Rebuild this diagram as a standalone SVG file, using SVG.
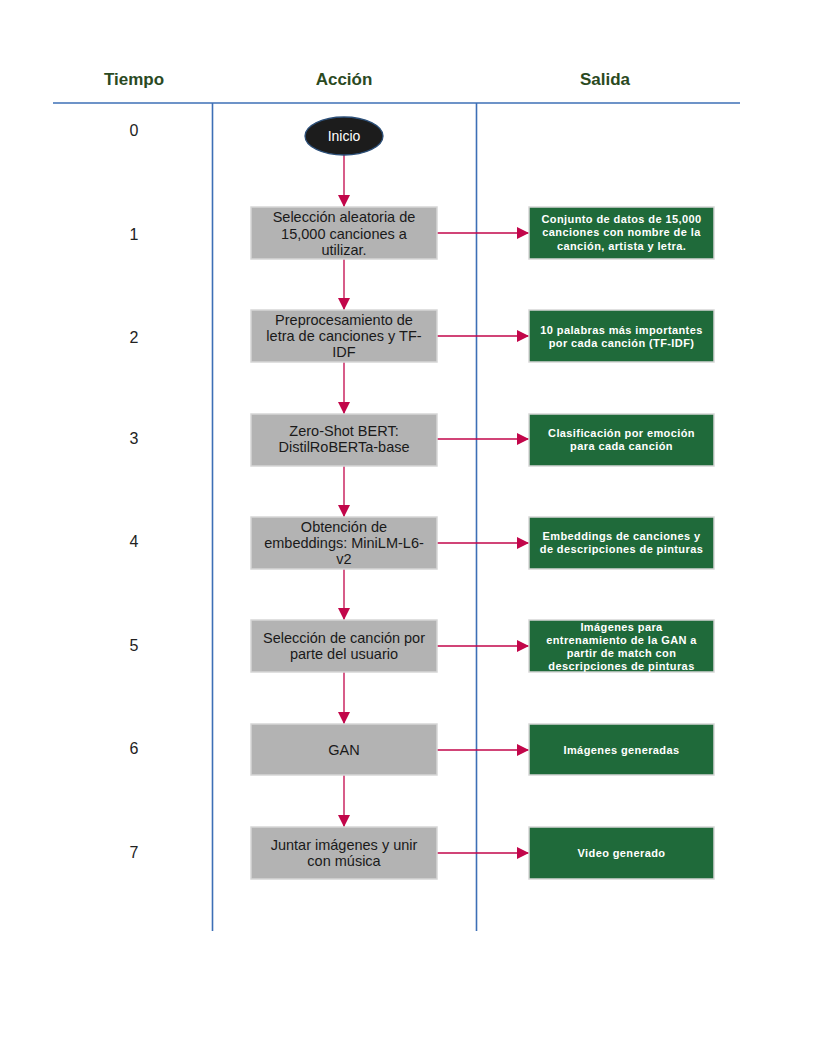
<svg xmlns="http://www.w3.org/2000/svg" width="816" height="1056" viewBox="0 0 816 1056">
<style>
.hdr{font-family:"Liberation Sans Narrow","Liberation Sans",Arial,sans-serif;font-weight:bold;font-size:17px;fill:#2b4a1f;text-anchor:middle}
.num{font-family:"Liberation Sans Narrow","Liberation Sans",Arial,sans-serif;font-size:16px;fill:#222;text-anchor:middle}
.lane{stroke:#3d6fb6;stroke-width:1.6;fill:none}
.act rect{fill:#b3b3b3;stroke:#d6d6d6;stroke-width:1.5}
.act text{font-family:"Liberation Sans",Arial,sans-serif;font-size:14.5px;fill:#1a1a1a;text-anchor:middle}
.out rect{fill:#1f6a3a;stroke:#d6d6d6;stroke-width:1.5}
.out text{font-family:"Liberation Sans",Arial,sans-serif;font-weight:bold;font-size:11px;letter-spacing:0.4px;fill:#ffffff;text-anchor:middle}
.conn line{stroke:#c2064a;stroke-width:1.3}
</style>
<defs>
<marker id="ah" viewBox="0 0 12 12" refX="12" refY="6" markerWidth="12" markerHeight="12" markerUnits="userSpaceOnUse" orient="auto">
<path d="M0,0 L12,6 L0,12 Z" fill="#c2064a"/>
</marker>
</defs>
<rect width="816" height="1056" fill="#ffffff"/>
<g id="lanes">
<line class="lane" x1="53" y1="103" x2="740" y2="103"/>
<line class="lane" x1="212.5" y1="103" x2="212.5" y2="931"/>
<line class="lane" x1="476.5" y1="103" x2="476.5" y2="931"/>
<text class="hdr" x="134" y="85">Tiempo</text>
<text class="hdr" x="344" y="85">Acción</text>
<text class="hdr" x="605" y="85">Salida</text>
</g>
<g id="times">
<text class="num" x="134" y="136">0</text>
<text class="num" x="134" y="240">1</text>
<text class="num" x="134" y="343">2</text>
<text class="num" x="134" y="444">3</text>
<text class="num" x="134" y="547">4</text>
<text class="num" x="134" y="651">5</text>
<text class="num" x="134" y="754">6</text>
<text class="num" x="134" y="858">7</text>
</g>
<g id="conn" class="conn">
<line x1="344" y1="155" x2="344" y2="207" marker-end="url(#ah)"/>
<line x1="344" y1="259" x2="344" y2="310" marker-end="url(#ah)"/>
<line x1="344" y1="362" x2="344" y2="414" marker-end="url(#ah)"/>
<line x1="344" y1="466" x2="344" y2="517" marker-end="url(#ah)"/>
<line x1="344" y1="569" x2="344" y2="620" marker-end="url(#ah)"/>
<line x1="344" y1="672" x2="344" y2="724" marker-end="url(#ah)"/>
<line x1="344" y1="775" x2="344" y2="827" marker-end="url(#ah)"/>
<line x1="437" y1="233" x2="529" y2="233" marker-end="url(#ah)"/>
<line x1="437" y1="336" x2="529" y2="336" marker-end="url(#ah)"/>
<line x1="437" y1="439" x2="529" y2="439" marker-end="url(#ah)"/>
<line x1="437" y1="543" x2="529" y2="543" marker-end="url(#ah)"/>
<line x1="437" y1="646" x2="529" y2="646" marker-end="url(#ah)"/>
<line x1="437" y1="750" x2="529" y2="750" marker-end="url(#ah)"/>
<line x1="437" y1="853" x2="529" y2="853" marker-end="url(#ah)"/>
</g>
<g id="inicio">
<ellipse cx="344" cy="136" rx="39" ry="19" fill="#1c1c1c" stroke="#2c4f78" stroke-width="1.3"/>
<text x="344" y="141" font-family="'Liberation Sans',Arial,sans-serif" font-size="14px" fill="#ffffff" text-anchor="middle">Inicio</text>
</g>
<g id="a1" class="act"><rect x="251" y="207" width="186" height="52"/>
<text x="344" y="222">Selección aleatoria de</text><text x="344" y="239">15,000 canciones a</text><text x="344" y="255">utilizar.</text></g>
<g id="a2" class="act"><rect x="251" y="310" width="186" height="52"/>
<text x="344" y="325">Preprocesamiento de</text><text x="344" y="341">letra de canciones y TF-</text><text x="344" y="357">IDF</text></g>
<g id="a3" class="act"><rect x="251" y="414" width="186" height="52"/>
<text x="344" y="436">Zero-Shot BERT:</text><text x="344" y="452">DistilRoBERTa-base</text></g>
<g id="a4" class="act"><rect x="251" y="517" width="186" height="52"/>
<text x="344" y="532">Obtención de</text><text x="344" y="548">embeddings: MiniLM-L6-</text><text x="344" y="564">v2</text></g>
<g id="a5" class="act"><rect x="251" y="620" width="186" height="52"/>
<text x="344" y="643">Selección de canción por</text><text x="344" y="659">parte del usuario</text></g>
<g id="a6" class="act"><rect x="251" y="724" width="186" height="51"/>
<text x="344" y="755">GAN</text></g>
<g id="a7" class="act"><rect x="251" y="827" width="186" height="52"/>
<text x="344" y="850">Juntar imágenes y unir</text><text x="344" y="866">con música</text></g>
<g id="o1" class="out"><rect x="529" y="207" width="185" height="52"/>
<text x="621.5" y="223">Conjunto de datos de 15,000</text><text x="621.5" y="236">canciones con nombre de la</text><text x="621.5" y="250">canción, artista y letra.</text></g>
<g id="o2" class="out"><rect x="529" y="310" width="185" height="52"/>
<text x="621.5" y="334">10 palabras más importantes</text><text x="621.5" y="347">por cada canción (TF-IDF)</text></g>
<g id="o3" class="out"><rect x="529" y="414" width="185" height="52"/>
<text x="621.5" y="437">Clasificación por emoción</text><text x="621.5" y="450">para cada canción</text></g>
<g id="o4" class="out"><rect x="529" y="517" width="185" height="52"/>
<text x="621.5" y="540">Embeddings de canciones y</text><text x="621.5" y="553">de descripciones de pinturas</text></g>
<g id="o5" class="out"><rect x="529" y="620" width="185" height="52"/>
<text x="621.5" y="631">Imágenes para</text><text x="621.5" y="644">entrenamiento de la GAN a</text><text x="621.5" y="657">partir de match con</text><text x="621.5" y="670">descripciones de pinturas</text></g>
<g id="o6" class="out"><rect x="529" y="724" width="185" height="51"/>
<text x="621.5" y="754">Imágenes generadas</text></g>
<g id="o7" class="out"><rect x="529" y="827" width="185" height="52"/>
<text x="621.5" y="857">Video generado</text></g>
</svg>
